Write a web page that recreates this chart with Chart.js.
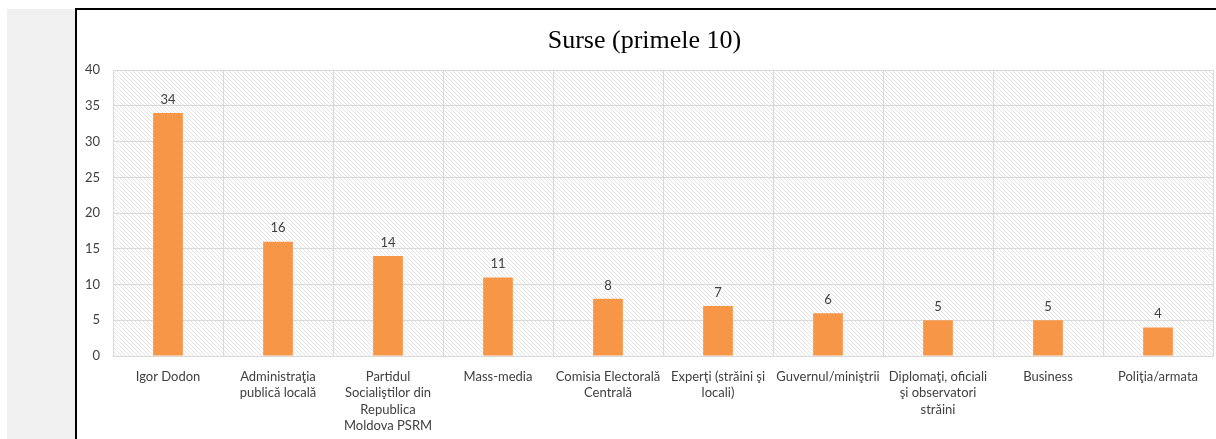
<!DOCTYPE html>
<html>
<head>
<meta charset="utf-8">
<script src="https://cdn.jsdelivr.net/npm/chart.js@4"></script>
<style>
  html, body { margin: 0; padding: 0; width: 1216px; height: 439px; overflow: hidden; background: #fff; }
  #side { position: absolute; left: 7px; top: 9px; width: 68px; height: 440px; background: #f0f0f0; }
  #frame { position: absolute; left: 75px; top: 8px; width: 1200px; height: 440px; border-left: 2px solid #000; border-top: 2px solid #000; background: #fff; }
  #wrap { position: absolute; left: 76px; top: 10px; width: 1152px; height: 430px; }
</style>
</head>
<body>
<div id="side"></div>
<div id="frame"></div>
<div id="wrap"><canvas id="chart"></canvas></div>
<script>
// categories (multi-line labels as in the original)
const categories = [
  ['Igor Dodon'],
  ['Administraţia', 'publică locală'],
  ['Partidul', 'Socialiştilor din', 'Republica', 'Moldova PSRM'],
  ['Mass-media'],
  ['Comisia Electorală', 'Centrală'],
  ['Experţi (străini şi', 'locali)'],
  ['Guvernul/miniştrii'],
  ['Diplomaţi, oficiali', 'şi observatori', 'străini'],
  ['Business'],
  ['Poliţia/armata']
];
const counts = [34, 16, 14, 11, 8, 7, 6, 5, 5, 4];
const yTicks = [0, 5, 10, 15, 20, 25, 30, 35, 40];

const labelFont = { family: 'Lato, "Open Sans", sans-serif', size: 13, lineHeight: 1.28 };

// hatched plot background
function makeHatch() {
  const c = document.createElement('canvas');
  c.width = 4; c.height = 4;
  const g = c.getContext('2d');
  g.fillStyle = '#ffffff';
  g.fillRect(0, 0, 4, 4);
  g.strokeStyle = '#e2e2e2';
  g.lineWidth = 1;
  g.beginPath();
  g.moveTo(-1, -1); g.lineTo(5, 5);
  g.stroke();
  return g.createPattern(c, 'repeat');
}

const hatchBg = {
  id: 'hatchBg',
  beforeDraw(chart) {
    const { ctx, chartArea: a } = chart;
    ctx.save();
    ctx.fillStyle = makeHatch();
    ctx.fillRect(a.left, a.top, a.right - a.left, a.bottom - a.top);
    ctx.restore();
  }
};

// values above bars
const valueLabels = {
  id: 'valueLabels',
  afterDatasetsDraw(chart) {
    const { ctx } = chart;
    const meta = chart.getDatasetMeta(0);
    ctx.save();
    ctx.font = labelFont.size + 'px ' + labelFont.family;
    ctx.fillStyle = '#404040';
    ctx.textAlign = 'center';
    ctx.textBaseline = 'bottom';
    meta.data.forEach((bar, i) => {
      ctx.fillText(String(counts[i]), bar.x, bar.y - 7);
    });
    ctx.restore();
  }
};

new Chart(document.getElementById('chart'), {
  type: 'bar',
  data: {
    labels: categories,
    datasets: [{
      data: counts,
      backgroundColor: '#F79646',
      borderWidth: 0,
      categoryPercentage: 1,
      barPercentage: 0.27
    }]
  },
  options: {
    responsive: true,
    maintainAspectRatio: false,
    animation: false,
    layout: { padding: { left: 0, right: 15, top: 0, bottom: 0 } },
    plugins: {
      legend: { display: false },
      tooltip: { enabled: false },
      title: {
        display: true,
        text: 'Surse (primele 10)',
        color: '#000',
        font: { family: '"Liberation Serif", "DejaVu Serif", serif', size: 26, weight: 'normal', lineHeight: 1.2 },
        padding: { top: 16, bottom: 13 }
      }
    },
    scales: {
      x: {
        grid: { color: '#d9d9d9', drawTicks: false, offset: true },
        border: { color: '#d9d9d9' },
        ticks: { color: '#404040', font: labelFont, padding: 12, maxRotation: 0, autoSkip: false },
        afterFit(scale) { scale.height = 84; }
      },
      y: {
        min: 0,
        max: 40,
        afterBuildTicks(scale) { scale.ticks = yTicks.map(v => ({ value: v })); },
        grid: { color: '#d9d9d9', drawTicks: false },
        border: { color: '#d9d9d9' },
        ticks: { color: '#404040', font: labelFont, padding: 13 },
        afterFit(scale) { scale.width = 37; }
      }
    }
  },
  plugins: [hatchBg, valueLabels]
});
</script>
</body>
</html>
